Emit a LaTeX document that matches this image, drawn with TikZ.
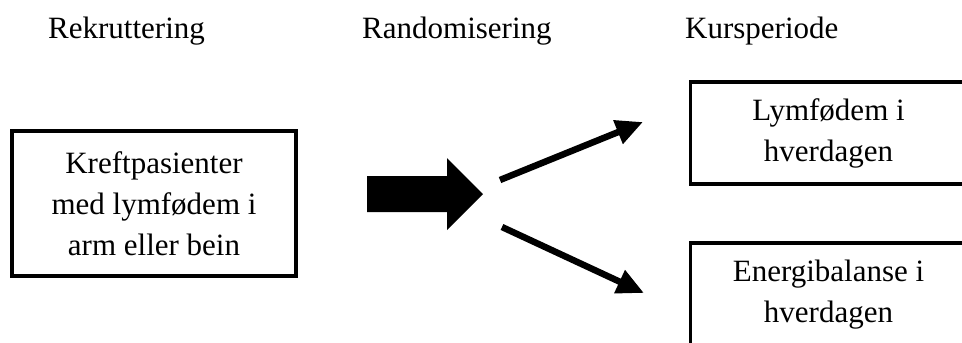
\documentclass[tikz,border=0pt]{standalone}
\usepackage{fontspec}
\setmainfont{Liberation Serif}
\usetikzlibrary{arrows.meta}
\begin{document}
\begin{tikzpicture}[x=1bp,y=-1bp,
  lbl/.style={font=\fontsize{31bp}{41bp}\selectfont, inner sep=0pt},
  box/.style={draw, line width=3.5bp, align=center, inner sep=0pt, font=\fontsize{31bp}{41bp}\selectfont},
  thinarrow/.style={line width=6.5bp, -{Triangle[length=27bp,width=24bp]}}]
\useasboundingbox (0,0) rectangle (962,342);
\clip (0,0) rectangle (962,342);
\node[lbl, anchor=base west] (h1) at (48,38) {Rekruttering};
\node[lbl, anchor=base west] (h2) at (362,38) {Randomisering};
\node[lbl, anchor=base west] (h3) at (685,38) {Kursperiode};
\node[box, minimum width=284bp, minimum height=145bp] (src) at (154,203.5) {Kreftpasienter\\med lymfødem i\\arm eller bein};
\node[box, minimum width=276bp, minimum height=102bp] (g1) at (828.5,133) {Lymfødem i\\hverdagen};
\node[box, minimum width=276bp, minimum height=104bp] (g2) at (828.5,295) {Energibalanse i\\hverdagen};
\coordinate (split) at (483,194);
\fill (367,176) -- (447,176) -- (447,158) -- (split) -- (447,230) -- (447,212) -- (367,212) -- cycle;
\coordinate (a1s) at (500,180);
\coordinate (a1e) at (643,122);
\coordinate (a2s) at (502,227);
\coordinate (a2e) at (644,293);
\draw[thinarrow] (a1s) -- (a1e);
\draw[thinarrow] (a2s) -- (a2e);
\end{tikzpicture}
\end{document}
